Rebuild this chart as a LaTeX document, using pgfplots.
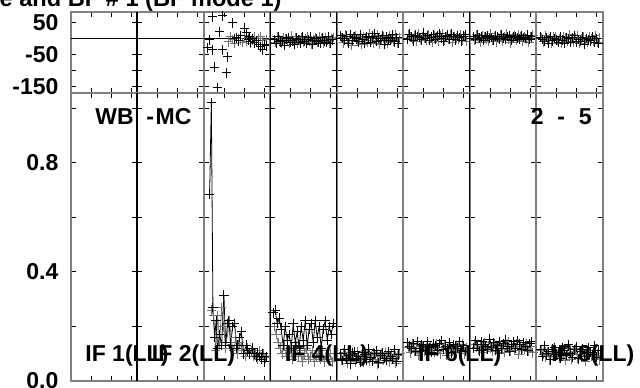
\documentclass[border=0pt]{standalone}
\usepackage{fontspec}
\setmainfont{Liberation Sans}
\usepackage{pgfplots}
\pgfplotsset{compat=1.18}
\definecolor{frame}{gray}{0.5}
\definecolor{dgray}{gray}{0.45}
\newcommand\lbl{\fontsize{11.5}{13}\selectfont\bfseries}
\pgfplotsset{
 panel/.style={scale only axis, anchor=south west, width=33.28125pt, xmin=0, xmax=66.5625,
   xtick={20.5,40.5,60.5}, xticklabels={}, tick align=inside, major tick length=2.5pt,
   tick style={black,line width=0.5pt}, axis line style={draw=frame,line width=1pt},
   yticklabel style={font=\lbl, xshift=-2.5pt}},
 toprow/.style={panel, height=40.5pt, ymin=-169, ymax=84, ytick={-150,-100,-50,0,50}, yticklabels={}},
 botrow/.style={panel, height=144pt, ymin=0, ymax=1.055, ytick={0,0.2,0.4,0.6,0.8,1}, yticklabels={}},
 bedge/.style={extra description/.code={\draw[black,line width=0.6pt] (0,0)--(0,1);}},
 pb/.style={black, mark=+, mark size=2.4pt, line width=0.5pt, only marks},
 pg/.style={dgray, mark=+, mark size=2.4pt, line width=0.5pt, only marks},
 lb/.style={black, mark=+, mark size=2.4pt, line width=0.4pt, mark options={line width=0.5pt}},
 lg/.style={dgray, mark=+, mark size=2.4pt, line width=0.4pt, mark options={line width=0.5pt}},
}
\begin{document}
\begin{tikzpicture}
\path[use as bounding box] (0,0) rectangle (320pt,193.5pt);
% ---------------- top row (phase) ----------------
\begin{axis}[toprow, at={(35.25pt,147pt)}, yticklabels={-150,,-50,,50}]
\addplot[black,line width=0.5pt] coordinates {(0,0)(66.5625,0)};
\end{axis}
\begin{axis}[toprow, bedge, at={(68.53125pt,147pt)}]
\addplot[black,line width=0.5pt] coordinates {(0,0)(66.5625,0)};
\end{axis}
\begin{axis}[toprow, at={(101.8125pt,147pt)}]
\addplot[black,line width=0.5pt] coordinates {(0,0)(66.5625,0)};
\addplot[pg] coordinates {(25,-9)(27,7)(29,-2)(31,-14)(33,4)(35,0)(37,-4)(39,-11)(41,10)(43,-7)(45,3)(47,-13)(49,-3)(51,5)(53,-10)(55,1)(57,8)(59,-6)(61,-16)(63,-2)};
\addplot[pb] coordinates {(4,-28)(6,-3)(9,69)(9,-34)(11,-88)(14,-153)(16,22)(19,72)(19,-34)(23,-106)(24,-56)(29,50)(31,0)(33,3)(35,-6)(37,10)(41,34)(43,19)(45,-3)(46,6)(47,-9)(49,0)(51,-12)(53,-6)(55,-16)(57,-25)(59,-34)(61,-19)(63,-22)};
\end{axis}
\begin{axis}[toprow, bedge, at={(135.09375pt,147pt)}]
\addplot[black,line width=0.5pt] coordinates {(0,0)(66.5625,0)};
\addplot[pg] coordinates {(5,-10)(7,6)(9,-3)(11,-15)(13,3)(15,-1)(17,-5)(19,-12)(21,9)(23,-8)(25,2)(27,-14)(29,-4)(31,4)(33,-11)(35,0)(37,7)(39,-7)(41,-17)(43,-3)(45,3)(47,-10)(49,6)(51,-1)(53,-12)(55,2)(57,-5)(59,-15)(61,0)(63,4)};
\addplot[pb] coordinates {(4,-2)(6,-14)(8,6)(10,-9)(12,-5)(14,-20)(16,0)(18,3)(20,-11)(22,-6)(24,-17)(26,2)(28,-3)(30,-12)(32,8)(34,-8)(36,-15)(38,-2)(40,5)(42,-18)(44,-5)(46,0)(48,-9)(50,-14)(52,3)(54,-6)(56,-11)(58,6)(60,-15)(62,-3)};
\end{axis}
\begin{axis}[toprow, bedge, at={(168.375pt,147pt)}]
\addplot[black,line width=0.5pt] coordinates {(0,0)(66.5625,0)};
\addplot[pg] coordinates {(5,4)(7,-12)(9,14)(11,-6)(13,0)(15,-20)(17,6)(19,10)(21,-8)(23,-2)(25,-16)(27,8)(29,2)(31,-10)(33,16)(35,-4)(37,-14)(39,4)(41,12)(43,-18)(45,0)(47,6)(49,-6)(51,-12)(53,10)(55,-2)(57,-8)(59,14)(61,-14)(63,2)};
\addplot[pb] coordinates {(4,11)(6,2)(8,-5)(10,9)(12,-13)(14,14)(16,-4)(18,5)(20,0)(22,-9)(24,13)(26,-2)(28,-14)(30,7)(32,4)(34,-11)(36,9)(38,16)(40,-7)(42,2)(44,-5)(46,11)(48,-16)(50,5)(52,0)(54,-4)(56,13)(58,-9)(60,4)(62,-13)};
\end{axis}
\begin{axis}[toprow, at={(201.65625pt,147pt)}]
\addplot[black,line width=0.5pt] coordinates {(0,0)(66.5625,0)};
\addplot[pg] coordinates {(5,13)(7,5)(9,-2)(11,11)(13,-8)(15,16)(17,0)(19,8)(21,3)(23,-5)(25,14)(27,1)(29,-10)(31,9)(33,6)(35,-7)(37,11)(39,17)(41,-3)(43,5)(45,-2)(47,13)(49,-11)(51,8)(53,3)(55,0)(57,14)(59,-5)(61,6)(63,-8)};
\addplot[pb] coordinates {(4,-1)(6,15)(8,6)(10,-6)(12,12)(14,8)(16,4)(18,-3)(20,18)(22,1)(24,11)(26,-5)(28,5)(30,13)(32,-2)(34,9)(36,16)(38,2)(40,-8)(42,6)(44,12)(46,-1)(48,15)(50,8)(52,-3)(54,11)(56,4)(58,-6)(60,9)(62,13)};
\end{axis}
\begin{axis}[toprow, bedge, at={(234.9375pt,147pt)}]
\addplot[black,line width=0.5pt] coordinates {(0,0)(66.5625,0)};
\addplot[pg] coordinates {(5,-4)(7,13)(9,4)(11,-11)(13,10)(15,5)(17,0)(19,-8)(21,16)(23,-3)(25,8)(27,-9)(29,2)(31,12)(33,-6)(35,7)(37,15)(39,-1)(41,-12)(43,4)(45,10)(47,-4)(49,13)(51,5)(53,-8)(55,8)(57,0)(59,-11)(61,7)(63,12)};
\addplot[pb] coordinates {(4,7)(6,-1)(8,12)(10,2)(12,5)(14,-5)(16,8)(18,10)(20,1)(22,4)(24,-3)(26,9)(28,6)(30,0)(32,13)(34,3)(36,-2)(38,7)(40,11)(42,-4)(44,5)(46,8)(48,2)(50,-1)(52,10)(54,4)(56,1)(58,12)(60,-2)(62,6)};
\end{axis}
\begin{axis}[toprow, at={(268.21875pt,147pt)}]
\addplot[black,line width=0.5pt] coordinates {(0,0)(66.5625,0)};
\addplot[pg] coordinates {(5,4)(7,-9)(9,11)(11,-4)(13,1)(15,-15)(17,5)(19,8)(21,-5)(23,-1)(25,-12)(27,7)(29,2)(31,-7)(33,13)(35,-2)(37,-10)(39,4)(41,10)(43,-13)(45,1)(47,5)(49,-4)(51,-9)(53,8)(55,-1)(57,-6)(59,11)(61,-10)(63,2)};
\addplot[pb] coordinates {(4,5)(6,-2)(8,-7)(10,4)(12,-13)(14,8)(16,-6)(18,1)(20,-3)(22,-10)(24,7)(26,-4)(28,-14)(30,3)(32,0)(34,-11)(36,4)(38,10)(40,-9)(42,-2)(44,-7)(46,5)(48,-16)(50,1)(52,-3)(54,-6)(56,7)(58,-10)(60,0)(62,-13)};
\end{axis}
% ---------------- bottom row (amplitude) ----------------
\begin{axis}[botrow, at={(35.25pt,3pt)}, yticklabels={0.0,,0.4,,0.8,}]
\end{axis}
\begin{axis}[botrow, bedge, at={(68.53125pt,3pt)}]
\end{axis}
\begin{axis}[botrow, at={(101.8125pt,3pt)}]
\addplot[lg] coordinates {(8,0.26)(10,0.24)(12,0.11)(14,0.24)(16,0.14)(18,0.27)(20,0.2)(22,0.12)(24,0.18)(26,0.22)(28,0.14)(30,0.11)(32,0.16)(34,0.1)(36,0.14)(38,0.12)(40,0.11)(42,0.09)(44,0.12)(46,0.1)(48,0.11)(50,0.09)(52,0.1)(54,0.08)(56,0.11)(58,0.09)(60,0.1)(62,0.085)};
\addplot[lb] coordinates {(6,0.685)(7.7,1.02)(9.3,0.27)(11,0.16)(12.5,0.22)(14,0.12)(16,0.17)(18,0.13)(20.3,0.315)(22,0.14)(24,0.21)(25.3,0.22)(27,0.13)(29,0.2)(31,0.211)(33,0.12)(34.3,0.131)(36,0.16)(37.7,0.18)(40,0.1)(42.7,0.131)(44,0.11)(46,0.1)(49.3,0.12)(51,0.1)(52.7,0.089)(54.3,0.101)(56,0.09)(58,0.08)(59.3,0.101)(61,0.07)(63,0.09)};
\end{axis}
\begin{axis}[botrow, bedge, at={(135.09375pt,3pt)}]
\addplot[lg] coordinates {(4,0.2)(6,0.17)(8,0.14)(10,0.12)(12,0.1)(14,0.13)(16,0.09)(18,0.11)(20,0.12)(22,0.08)(24,0.1)(26,0.13)(28,0.09)(30,0.11)(32,0.07)(34,0.1)(36,0.12)(38,0.08)(40,0.09)(42,0.11)(44,0.07)(46,0.09)(48,0.1)(50,0.08)(52,0.11)(54,0.07)(56,0.09)(58,0.08)(60,0.1)(62,0.07)};
\addplot[lb] coordinates {(3,0.25)(5,0.26)(7,0.21)(9,0.23)(11,0.19)(13,0.13)(15,0.2)(17,0.15)(19,0.17)(21,0.12)(23,0.21)(25,0.14)(27,0.18)(29,0.12)(31,0.2)(33,0.15)(35,0.22)(37,0.13)(39,0.19)(41,0.21)(43,0.14)(45,0.22)(47,0.16)(49,0.2)(51,0.12)(53,0.19)(55,0.22)(57,0.15)(59,0.2)(61,0.17)(63,0.21)};
\end{axis}
\begin{axis}[botrow, bedge, at={(168.375pt,3pt)}]
\addplot[lg] coordinates {(5,0.075)(7,0.103)(9,0.088)(11,0.065)(13,0.098)(15,0.09)(17,0.083)(19,0.07)(21,0.108)(23,0.078)(25,0.095)(27,0.068)(29,0.085)(31,0.1)(33,0.073)(35,0.093)(37,0.105)(39,0.08)(41,0.063)(43,0.088)(45,0.098)(47,0.075)(49,0.103)(51,0.09)(53,0.07)(55,0.095)(57,0.083)(59,0.065)(61,0.093)(63,0.1)};
\addplot[lb] coordinates {(4,0.099)(6,0.075)(8,0.114)(10,0.084)(12,0.093)(14,0.063)(16,0.102)(18,0.108)(20,0.081)(22,0.09)(24,0.069)(26,0.105)(28,0.096)(30,0.078)(32,0.117)(34,0.087)(36,0.072)(38,0.099)(40,0.111)(42,0.066)(44,0.093)(46,0.102)(48,0.084)(50,0.075)(52,0.108)(54,0.09)(56,0.081)(58,0.114)(60,0.072)(62,0.096)};
\end{axis}
\begin{axis}[botrow, at={(201.65625pt,3pt)}]
\addplot[lg] coordinates {(5,0.123)(7,0.103)(9,0.135)(11,0.11)(13,0.118)(15,0.093)(17,0.125)(19,0.13)(21,0.108)(23,0.115)(25,0.098)(27,0.128)(29,0.12)(31,0.105)(33,0.138)(35,0.113)(37,0.1)(39,0.123)(41,0.133)(43,0.095)(45,0.118)(47,0.125)(49,0.11)(51,0.103)(53,0.13)(55,0.115)(57,0.108)(59,0.135)(61,0.1)(63,0.12)};
\addplot[lb] coordinates {(4,0.14)(6,0.128)(8,0.118)(10,0.138)(12,0.108)(14,0.145)(16,0.12)(18,0.133)(20,0.125)(22,0.113)(24,0.143)(26,0.123)(28,0.105)(30,0.135)(32,0.13)(34,0.11)(36,0.138)(38,0.148)(40,0.115)(42,0.128)(44,0.118)(46,0.14)(48,0.103)(50,0.133)(52,0.125)(54,0.12)(56,0.143)(58,0.113)(60,0.13)(62,0.108)};
\end{axis}
\begin{axis}[botrow, bedge, at={(234.9375pt,3pt)}]
\addplot[lg] coordinates {(5,0.135)(7,0.123)(9,0.113)(11,0.133)(13,0.103)(15,0.14)(17,0.115)(19,0.128)(21,0.12)(23,0.108)(25,0.138)(27,0.118)(29,0.1)(31,0.13)(33,0.125)(35,0.105)(37,0.133)(39,0.143)(41,0.11)(43,0.123)(45,0.113)(47,0.135)(49,0.098)(51,0.128)(53,0.12)(55,0.115)(57,0.138)(59,0.108)(61,0.125)(63,0.103)};
\addplot[lb] coordinates {(4,0.12)(6,0.148)(8,0.133)(10,0.11)(12,0.143)(14,0.135)(16,0.128)(18,0.115)(20,0.153)(22,0.123)(24,0.14)(26,0.113)(28,0.13)(30,0.145)(32,0.118)(34,0.138)(36,0.15)(38,0.125)(40,0.108)(42,0.133)(44,0.143)(46,0.12)(48,0.148)(50,0.135)(52,0.115)(54,0.14)(56,0.128)(58,0.11)(60,0.138)(62,0.145)};
\end{axis}
\begin{axis}[botrow, at={(268.21875pt,3pt)}]
\addplot[lg] coordinates {(5,0.11)(7,0.098)(9,0.088)(11,0.108)(13,0.078)(15,0.115)(17,0.09)(19,0.103)(21,0.095)(23,0.083)(25,0.113)(27,0.093)(29,0.075)(31,0.105)(33,0.1)(35,0.08)(37,0.108)(39,0.118)(41,0.085)(43,0.098)(45,0.088)(47,0.11)(49,0.073)(51,0.103)(53,0.095)(55,0.09)(57,0.113)(59,0.083)(61,0.1)(63,0.078)};
\addplot[lb] coordinates {(4,0.114)(6,0.09)(8,0.129)(10,0.099)(12,0.108)(14,0.078)(16,0.117)(18,0.123)(20,0.096)(22,0.105)(24,0.084)(26,0.12)(28,0.111)(30,0.093)(32,0.132)(34,0.102)(36,0.087)(38,0.114)(40,0.126)(42,0.081)(44,0.108)(46,0.117)(48,0.099)(50,0.09)(52,0.123)(54,0.105)(56,0.096)(58,0.129)(60,0.087)(62,0.111)};
\end{axis}
% ---------------- texts ----------------
\node[anchor=base east, inner sep=0, font=\fontsize{11.8}{13}\selectfont\bfseries] at (141pt,190.5pt) {Amplitude \& Phase and BF \# 1 (BF mode 1)};
\node[anchor=west, inner sep=0, font=\lbl] at (47.5pt,135pt) {WB\hspace{0.55em}-\hspace{0.07em}MC};
\node[anchor=east, inner sep=0, font=\lbl] at (296pt,135pt) {2\hspace{0.6em}-\hspace{0.6em}5};
\node[anchor=base west, inner sep=0, font=\lbl] at (42.5pt,12.75pt) {IF 1(LL)};
\node[anchor=base west, inner sep=0, font=\lbl] at (75.78pt,12.75pt) {IF 2(LL)};
\node[anchor=base west, inner sep=0, font=\lbl] at (142.34pt,12.75pt) {IF 4(LL)};
\node[anchor=base west, inner sep=0, font=\lbl] at (208.9pt,12.75pt) {IF 6(LL)};
\node[anchor=base west, inner sep=0, font=\lbl] at (275.47pt,12.75pt) {IF 8(LL)};
\end{tikzpicture}
\end{document}
